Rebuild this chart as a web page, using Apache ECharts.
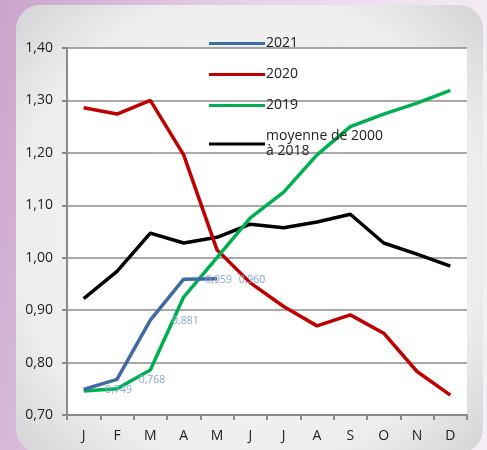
<!DOCTYPE html>
<html>
<head>
<meta charset="utf-8">
<script src="https://cdn.jsdelivr.net/npm/echarts@6/dist/echarts.min.js"></script>
<style>html,body{margin:0;padding:0;}#c{width:487px;height:450px;}</style>
</head>
<body>
<div id="c"></div>
<script>
const months = ['J','F','M','A','M','J','J','A','S','O','N','D'];
const s2021 = [0.749, 0.768, 0.881, 0.959, 0.960, null, null, null, null, null, null, null];
const s2020 = [1.286, 1.274, 1.300, 1.196, 1.015, 0.952, 0.907, 0.870, 0.891, 0.856, 0.783, 0.738];
const s2019 = [0.746, 0.750, 0.786, 0.925, 1.000, 1.076, 1.125, 1.196, 1.250, 1.274, 1.295, 1.319];
const sMoy = [0.922, 0.974, 1.047, 1.028, 1.039, 1.064, 1.057, 1.068, 1.083, 1.028, 1.007, 0.984];
const yMin = 0.7, yMax = 1.4, yStep = 0.1;

const chart = echarts.init(document.getElementById('c'));
const font = '"Open Sans", Lato, "DejaVu Sans", sans-serif';
const fmt = v => v.toFixed(2).replace('.', ',');
function line(name, data, color, extra) {
  return Object.assign({
    name, type: 'line', data, symbol: 'none', showSymbol: false,
    lineStyle: { color, width: 3.5 }, itemStyle: { color },
    connectNulls: false
  }, extra || {});
}
chart.setOption({
  animation: false,
  backgroundColor: {
    type: 'linear', x: 0, y: 0, x2: 1, y2: 0.25,
    colorStops: [{ offset: 0, color: '#cba3cc' }, { offset: 0.45, color: '#e4d0e6' }, { offset: 1, color: '#f4eff5' }]
  },
  graphic: [{
    type: 'rect', z: -10, silent: true,
    shape: { x: 16, y: 5, width: 467, height: 448, r: 24 },
    style: {
      fill: {
        type: 'radial', x: 0.5, y: 0.5, r: 0.75,
        colorStops: [{ offset: 0, color: '#fbfbfb' }, { offset: 0.7, color: '#ededee' }, { offset: 1, color: '#d0d0d2' }]
      }
    }
  }],
  grid: { left: 67, right: 20, top: 48, bottom: 35, show: true, backgroundColor: '#ffffff', borderWidth: 0 },
  legend: {
    orient: 'vertical', left: 204, top: 31, itemWidth: 56, itemHeight: 14, itemGap: 16,
    icon: 'path://M0,6 L56,6 L56,9 L0,9 Z',
    textStyle: { fontFamily: font, fontSize: 14, color: '#222', lineHeight: 15, padding: [0, 0, 0, -4] },
    data: ['2021', '2020', '2019', 'moyenne de 2000\nà 2018']
  },
  xAxis: {
    type: 'category', data: months, boundaryGap: true,
    axisLine: { lineStyle: { color: '#8a8a8a', width: 2 } },
    axisTick: { show: true, length: 5, lineStyle: { color: '#8a8a8a', width: 2 } },
    axisLabel: { fontFamily: font, fontSize: 14, color: '#222', margin: 14 },
    splitLine: { show: false }
  },
  yAxis: {
    type: 'value', min: yMin, max: yMax, interval: yStep,
    axisLine: { show: true, lineStyle: { color: '#8a8a8a', width: 2 } },
    axisTick: { show: true, length: 5, lineStyle: { color: '#8a8a8a', width: 2 } },
    axisLabel: { fontFamily: font, fontSize: 14, color: '#222', margin: 14, formatter: fmt },
    splitLine: { show: true, lineStyle: { color: '#8c8c8c', width: 1.5 } }
  },
  series: [
    line('2021', s2021, '#3f6aa3', {
      z: 4, symbol: 'circle', symbolSize: 0.1, showSymbol: true,
      label: {
        show: true, position: 'inside', offset: [35, 1],
        fontFamily: font, fontSize: 10.5, color: '#86a6d8',
        formatter: p => p.value == null ? '' : p.value.toFixed(3).replace('.', ',')
      }
    }),
    line('2020', s2020, '#c00000', { z: 3 }),
    line('2019', s2019, '#00b050', { z: 3 }),
    line('moyenne de 2000\nà 2018', sMoy, '#000000', { z: 2 })
  ]
});
</script>
</body>
</html>
